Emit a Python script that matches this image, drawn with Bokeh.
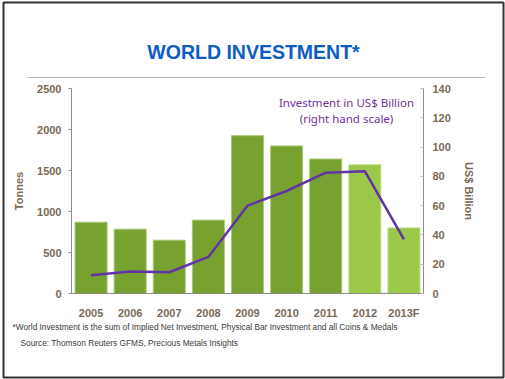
from bokeh.plotting import figure
from bokeh.models import (Range1d, FactorRange, LinearAxis, Label, BoxAnnotation,
                          ColumnDataSource, FixedTicker)
from bokeh.embed import file_html
from bokeh.resources import INLINE

years = ["2005", "2006", "2007", "2008", "2009", "2010", "2011", "2012", "2013F"]
tonnes = [870, 785, 650, 895, 1925, 1800, 1640, 1570, 800]
usd_bn = [12.5, 15, 14.5, 25, 60, 70, 82.5, 83.5, 37]
bar_colors = ["#77a22f"] * 7 + ["#9bc848"] * 2
edge_colors = ["#a9c97a"] * 7 + ["#c2df8e"] * 2
title_text = "WORLD INVESTMENT*"
note_text = "*World Investment is the sum of Implied Net Investment, Physical Bar Investment and all Coins & Medals"
source_text = "Source: Thomson Reuters GFMS, Precious Metals Insights"

W, H = 505, 379
FL, FR, FT, FB = 71, 423, 88, 293
abs_pos = {"position": "absolute", "left": "0px", "top": "0px"}

# ---------- background page: title, separator, notes, frame ----------
bg = figure(width=W, height=H, x_range=Range1d(0, W), y_range=Range1d(0, H),
            x_axis_type=None, y_axis_type=None, output_backend="svg",
            toolbar_location=None, min_border=0)
bg.styles = abs_pos
bg.outline_line_color = None
bg.xgrid.grid_line_color = None
bg.ygrid.grid_line_color = None
bg.background_fill_color = "white"
bg.border_fill_color = "white"


def lab(fig, text, x, y, size, color, style="normal", font="Liberation Sans", align="left", ox=0, oy=0):
    fig.add_layout(Label(x=x - ox, y=oy - y, x_units="screen", y_units="screen", text=text,
                         text_font=font, text_font_size=size, text_color=color,
                         text_font_style=style, text_align=align, text_baseline="middle"))


lab(bg, title_text, 253, 51, "19.5px", "#0b5cc5", style="bold", align="center", oy=H)
lab(bg, note_text, 12, 326, "8.3px", "#3a3a3a", oy=H)
lab(bg, source_text, 20, 342, "8.3px", "#3a3a3a", oy=H)
bg.add_layout(BoxAnnotation(left=27, right=485, top=H - 77, bottom=H - 77,
                            left_units="screen", right_units="screen", top_units="screen",
                            bottom_units="screen", fill_color=None, line_color="#9a9a9a",
                            line_alpha=1.0, line_width=1, line_dash="1 1"))
bg.add_layout(BoxAnnotation(left=3, right=503, top=H - 2, bottom=H - 377,
                            left_units="screen", right_units="screen", top_units="screen",
                            bottom_units="screen", fill_color=None, line_color="#333333",
                            line_alpha=1.0, line_width=2))

# ---------- chart ----------
p = figure(width=W, height=H, x_range=FactorRange(factors=years, range_padding=0),
           y_range=Range1d(0, 2500), output_backend="svg", toolbar_location=None,
           min_border_left=FL, min_border_right=W - FR, min_border_top=FT,
           min_border_bottom=H - FB)
p.styles = abs_pos
p.outline_line_color = None
p.xgrid.grid_line_color = None
p.ygrid.grid_line_color = None
p.background_fill_color = None
p.border_fill_color = None

src = ColumnDataSource(dict(x=years, t=tonnes, c=bar_colors, e=edge_colors))
p.vbar(x="x", top="t", width=0.82, source=src, fill_color="c", line_color="e", line_width=1)

p.extra_y_ranges = {"usd": Range1d(0, 140)}
p.line(x=years, y=usd_bn, y_range_name="usd", line_color="#6233a5", line_width=2.5)

label_color = "#7a6956"
axis_color = "#8c8c8c"

ya = p.yaxis[0]
ya.ticker = FixedTicker(ticks=[0, 500, 1000, 1500, 2000, 2500])
ya.axis_label = "Tonnes"
ya.axis_label_standoff = 9
ya.major_label_standoff = 7
ya.major_tick_out = 3
ya.major_tick_in = 0

ra = LinearAxis(y_range_name="usd", ticker=FixedTicker(ticks=[0, 20, 40, 60, 80, 100, 120, 140]))
ra.axis_label = "US$ Billion"
ra.axis_label_standoff = 9
ra.major_label_standoff = 9
ra.major_tick_out = 0
ra.major_tick_in = 3
p.add_layout(ra, "right")

xa = p.xaxis[0]
xa.major_label_standoff = 7
xa.major_tick_line_color = None

for ax in (ya, ra, xa):
    ax.axis_label_text_font = "Liberation Sans"
    ax.axis_label_text_font_style = "bold"
    ax.axis_label_text_font_size = "11px"
    ax.axis_label_text_color = label_color
    ax.major_label_text_font = "Liberation Sans"
    ax.major_label_text_font_style = "bold"
    ax.major_label_text_font_size = "11px"
    ax.major_label_text_color = label_color
    ax.minor_tick_out = 0
    ax.minor_tick_in = 0
    ax.axis_line_color = axis_color
ya.major_tick_line_color = axis_color
ra.major_tick_line_color = "#bbbbbb"

lab(p, "Investment in US$ Billion", 346, 102, "11.5px", "#7030a0", font="Noto Sans",
    align="center", ox=FL, oy=FB)
lab(p, "(right hand scale)", 346, 118, "11.5px", "#7030a0", font="Noto Sans",
    align="center", ox=FL, oy=FB)

open("out.html", "w").write(file_html([bg, p], INLINE))
